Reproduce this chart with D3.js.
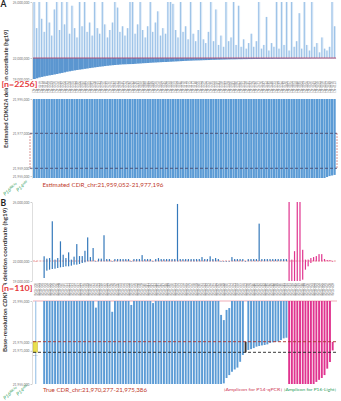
<!DOCTYPE html>
<html>
<head>
<meta charset="utf-8">
<script src="https://cdn.jsdelivr.net/npm/d3@7"></script>
<style>
body { margin: 0; background: #fff; }
svg { display: block; }
</style>
</head>
<body>
<div id="chart"></div>
<script>
var w = 341;
var h = 401;
var font = "Lato, 'Open Sans', sans-serif";

// Panel A: estimated deletions, start / end in Mb (sorted by start)
var aStart = [19.0, 19.1, 19.22, 19.3, 19.38, 19.45, 19.52, 19.58, 19.65, 19.72,
    19.8, 19.87, 19.95, 20.04, 20.1, 20.17, 20.23, 20.29, 20.34, 20.39,
    20.45, 20.5, 20.56, 20.61, 20.66, 20.71, 20.76, 20.8, 20.85, 20.89,
    20.93, 20.97, 21.0, 21.03, 21.06, 21.09, 21.1, 21.12, 21.13, 21.14,
    21.17, 21.2, 21.22, 21.25, 21.27, 21.29, 21.32, 21.34, 21.36, 21.38,
    21.4, 21.42, 21.43, 21.45, 21.47, 21.49, 21.51, 21.53, 21.55, 21.57,
    21.59, 21.61, 21.62, 21.64, 21.65, 21.66, 21.67, 21.69, 21.7, 21.71,
    21.73, 21.74, 21.75, 21.76, 21.77, 21.78, 21.79, 21.8, 21.81, 21.81,
    21.82, 21.83, 21.83, 21.84, 21.84, 21.85, 21.85, 21.86, 21.86, 21.87,
    21.87, 21.87, 21.88, 21.88, 21.88, 21.89, 21.89, 21.89, 21.9, 21.9,
    21.9, 21.91, 21.91, 21.91, 21.92, 21.92, 21.92, 21.93, 21.93, 21.93,
    21.94, 21.94, 21.945, 21.95, 21.952, 21.9535, 21.9545, 21.955, 21.9553, 21.9556];
var aEnd = [25, 23.6, 25, 24.1, 23.4, 25, 23.9, 23.2, 24.6, 25,
    23.5, 25, 23.8, 25, 23.3, 24.8, 23.6, 23.1, 25, 23.7,
    25, 23.4, 23.9, 23.2, 25, 23.6, 23.3, 25, 23.8, 23.1,
    23.5, 23.9, 25, 24.7, 23.4, 23.7, 23.2, 23.6, 25, 25,
    23.3, 23.8, 25, 23.5, 23.1, 23.7, 25, 23.4, 23.9, 24.5,
    23.2, 23.6, 23.3, 25, 25, 24.9, 23.5, 23.1, 25, 23.4,
    23.7, 23.0, 25, 23.3, 22.9, 23.5, 25, 23.0, 22.8, 23.4,
    25, 22.9, 24.6, 22.7, 23.2, 22.6, 25, 22.9, 23.1, 25,
    22.7, 24.8, 22.6, 23.0, 22.5, 22.8, 23.3, 22.6, 22.9, 25,
    22.5, 22.7, 24.2, 22.4, 22.8, 22.6, 25, 22.5, 25, 22.7,
    25, 22.4, 25, 22.6, 22.9, 24.4, 22.5, 25, 22.7, 22.4,
    25, 22.6, 22.8, 22.3, 23.1, 22.5, 22.4, 22.6, 25, 23.7];
var aTicksWide = [19, 22, 25];
var aTicksZoom = [21.955, 21.959, 21.977, 21.995];
var aCdr = [21.959052, 21.977196];

// Panel B: base-resolution deletions, start / end in Mb, group per sample
var bStart = [21.954, null, null, 19.45, 20.55, 20.7, 20.8, 20.85, 20.95, 21.05,
    21.1, 21.2, 21.2, 21.3, 21.45, 21.45, 21.55, 21.7, 21.8, 21.95,
    21.954, 21.954, 21.954, 21.954, 21.954, 21.954, 21.954, 21.954, 21.954, 21.954,
    21.954, 21.954, 21.954, 21.954, 21.954, 21.954, 21.954, 21.954, 21.954, 21.954,
    21.954, 21.954, 21.954, 21.954, 21.954, 21.954, 21.954, 21.954, 21.954, 21.954,
    21.954, 21.954, 21.954, 21.954, 21.954, 21.954, 21.954, 21.954, 21.954, 21.954,
    21.954, 21.954, 21.954, 21.954, 21.954, 21.954, 21.954, 21.954, 21.954, 21.9553,
    21.9579, 21.9593, 21.9609, 21.962, 21.9629, 21.9657, 21.969, 21.970277, 21.9714, 21.9718,
    21.9723, 21.973, 21.9733, 21.9736, 21.9738, 21.9741, 21.9748, 21.9751, 21.9753, 21.9755,
    21.9762, 21.977, 21.9773, 19.0, 19.0, 19.0, 19.0, 19.0, 19.2, 20.7,
    21.2, 21.7, 21.9545, 21.956, 21.957, 21.9579, 21.9593, 21.9624, 21.9656, 21.9712];
var bEnd = [21.996, null, null, 22.24, 22.12, 22.15, 24.02, 22.07, 22.15, 23.0,
    22.32, 22.15, 22.44, 22.07, 22.22, 22.86, 22.25, 22.25, 22.52, 23.2,
    22.2, 22.66, 21.9918, 22.12, 22.12, 23.31, 22.1, 22.1, 21.9898, 22.1,
    22.1, 22.1, 22.1, 22.1, 22.1, 21.9931, 22.1, 22.1, 22.1, 22.3,
    22.1, 22.1, 22.1, 21.994, 22.1, 22.15, 22.1, 22.1, 22.1, 22.1,
    22.1, 22.1, 24.9, 22.1, 22.1, 22.1, 22.1, 22.1, 22.1, 22.1,
    22.1, 22.2, 22.1, 22.1, 22.24, 22.1, 22.15, 22.1, 21.9883, 21.9858,
    21.9907, 21.9916, 22.2, 22.1, 22.1, 22.1, 22.1, 21.975386, 22.1, 22.1,
    22.1, 22.1, 23.9, 22.1, 22.1, 22.1, 22.1, 22.1, 22.1, 22.1,
    22.1, 22.1, 22.1, 25, 22.07, 22.5, 25, 25, 22.57, 22.07,
    22.07, 22.15, 22.2, 22.25, 22.35, 22.35, 22.1, 22.05, 22.05, 21.9753];
var bGroup = ["ref", "none", "none"]
    .concat(d3.range(74).map(function() { return "blue"; }))
    .concat(["cdr"])
    .concat(d3.range(15).map(function() { return "blue"; }))
    .concat(d3.range(17).map(function() { return "pink"; }));
var bTicksWide = [19, 22, 25];
var bTicksZoom = [21.955, 21.971, 21.975, 21.995];
var bCdr = [21.970277, 21.975386];

var aSamples = aStart.map(function(d, i) { return "CN-" + (2100 + i * 17); });
var bSamples = bStart.map(function(d, i) { return "WGS-" + (300 + i); });

var svg = d3.select("#chart")
    .append("svg")
    .attr("width", w)
    .attr("height", h)
    .style("font-family", font);

var fmt = d3.format(",");
function tickFmt(d) { return fmt(Math.round(d * 1e6)); }

function drawAxis(y, ticks, x) {
    var ax = svg.append("g")
        .attr("transform", "translate(" + x + ",0)")
        .call(d3.axisLeft(y).tickValues(ticks).tickFormat(tickFmt)
            .tickSize(1.5).tickSizeOuter(0).tickPadding(1));
    ax.attr("font-size", 3.3).attr("font-family", font);
    ax.select(".domain").attr("stroke", "#c8c8c8").attr("stroke-width", 0.6);
    ax.selectAll(".tick line").attr("stroke", "#999").attr("stroke-width", 0.5);
    ax.selectAll(".tick text").attr("fill", "#777");
}

function drawLabels(x, ids, y0, col) {
    svg.append("g").selectAll("text")
        .data(ids)
        .join("text")
        .attr("transform", function(d, i) {
            return "translate(" + (x(i) + x.bandwidth() / 2 + 1) + "," + y0 + ") rotate(-90)";
        })
        .attr("text-anchor", "end")
        .attr("font-size", 2.9)
        .attr("fill", col)
        .text(function(d) { return d; });
}

// ---------- panel A ----------
var aIdx = d3.range(aStart.length);
var xA = d3.scaleBand().domain(aIdx).range([33, 336]);
var yA1 = d3.scaleLinear().domain([19, 22, 25]).range([79, 58, 2]).clamp(true);
var yA2 = d3.scaleLinear().domain([21.954, 21.995]).range([178, 99]).clamp(true);

svg.append("g").selectAll("rect")
    .data(aIdx)
    .join("rect")
    .attr("x", function(i) { return xA(i); })
    .attr("width", xA.bandwidth())
    .attr("y", function(i) { return yA1(aEnd[i]); })
    .attr("height", function(i) { return yA1(22) - yA1(aEnd[i]); })
    .attr("fill", "#d8e7f6");

svg.append("g").selectAll("rect")
    .data(aIdx)
    .join("rect")
    .attr("x", function(i) { return xA(i) + xA.bandwidth() * 0.3; })
    .attr("width", 0.6)
    .attr("y", function(i) { return yA1(aEnd[i]); })
    .attr("height", function(i) { return yA1(22) - yA1(aEnd[i]); })
    .attr("fill", "#7aade0");

svg.append("g").selectAll("rect")
    .data(aIdx)
    .join("rect")
    .attr("x", function(i) { return xA(i); })
    .attr("width", xA.bandwidth() + 0.2)
    .attr("y", yA1(22))
    .attr("height", function(i) { return yA1(aStart[i]) - yA1(22); })
    .attr("fill", "#5b96d0");

svg.append("line")
    .attr("x1", 33).attr("x2", 336)
    .attr("y1", yA1(22)).attr("y2", yA1(22))
    .attr("stroke", "#b8466a").attr("stroke-width", 0.9);

drawAxis(yA1, aTicksWide, 32);
drawLabels(xA, aSamples, 81, "#777");

// zoomed A
svg.append("g").selectAll("rect")
    .data(aIdx)
    .join("rect")
    .attr("x", function(i) { return xA(i); })
    .attr("width", xA.bandwidth() - 0.3)
    .attr("y", function(i) { return yA2(aEnd[i]); })
    .attr("height", function(i) { return yA2(aStart[i]) - yA2(aEnd[i]); })
    .attr("fill", "#5b9bd5");

aCdr.forEach(function(v) {
    svg.append("line")
        .attr("x1", 30).attr("x2", 337)
        .attr("y1", yA2(v)).attr("y2", yA2(v))
        .attr("stroke", "#4a4a6e").attr("stroke-width", 0.9)
        .attr("stroke-dasharray", "3,2");
});
[30, 337].forEach(function(x) {
    svg.append("line")
        .attr("x1", x).attr("x2", x)
        .attr("y1", yA2(aCdr[1])).attr("y2", yA2(aCdr[0]))
        .attr("stroke", "#c0504d").attr("stroke-width", 0.8)
        .attr("stroke-dasharray", "1.5,1.5");
});

drawAxis(yA2, aTicksZoom, 32);

// ---------- panel B ----------
var bIdx = d3.range(bStart.length).filter(function(i) { return bStart[i] !== null; });
var xB = d3.scaleBand().domain(d3.range(bStart.length)).range([34.6, 334]);
var yB1 = d3.scaleLinear().domain([19, 22, 25]).range([281, 261, 202]).clamp(true);
var yB2 = d3.scaleLinear().domain([21.955, 21.995]).range([384, 301]).clamp(true);

var colB1 = { ref: "#e06a6a", blue: "#3579bb", cdr: "#3579bb", pink: "#e0348f" };
var colB2 = { ref: "#a8cbea", blue: "#5b9bd5", cdr: "#333333", pink: "#e0348f" };

svg.append("line")
    .attr("x1", 33).attr("x2", 336)
    .attr("y1", yB1(22)).attr("y2", yB1(22))
    .attr("stroke", "#e06a6a").attr("stroke-width", 0.7)
    .attr("stroke-dasharray", "2,1.2");

svg.append("g").selectAll("rect")
    .data(bIdx)
    .join("rect")
    .attr("x", function(i) { return xB(i) + xB.bandwidth() / 2 - 0.6; })
    .attr("width", 1.2)
    .attr("y", function(i) { return yB1(bEnd[i]); })
    .attr("height", function(i) { return Math.max(0.6, yB1(bStart[i]) - yB1(bEnd[i])); })
    .attr("fill", function(i) { return colB1[bGroup[i]]; });

drawAxis(yB1, bTicksWide, 32);
drawLabels(xB, bSamples, 283, "#666");

// zoomed B
svg.append("line")
    .attr("x1", 33).attr("x2", 337)
    .attr("y1", yB2(21.995)).attr("y2", yB2(21.995))
    .attr("stroke", "#e88a9a").attr("stroke-width", 0.7);

svg.append("g").selectAll("rect")
    .data(bIdx)
    .join("rect")
    .attr("x", function(i) { return xB(i) + xB.bandwidth() / 2 - 0.9; })
    .attr("width", function(i) { return bGroup[i] === "ref" ? 1.3 : 1.9; })
    .attr("y", function(i) { return yB2(bEnd[i]); })
    .attr("height", function(i) { return yB2(bStart[i]) - yB2(bEnd[i]); })
    .attr("fill", function(i) { return colB2[bGroup[i]]; });

svg.append("rect")
    .attr("x", 33).attr("width", 4.5)
    .attr("y", yB2(bCdr[1])).attr("height", yB2(bCdr[0]) - yB2(bCdr[1]))
    .attr("fill", "#e9df4f").attr("stroke", "#b9a420").attr("stroke-width", 0.4);
svg.append("text")
    .attr("x", 33).attr("y", yB2(bCdr[0]) + 3.5)
    .attr("font-size", 2.6).attr("fill", "#555")
    .text("P14");

svg.append("line")
    .attr("x1", 33).attr("x2", 337)
    .attr("y1", yB2(bCdr[1])).attr("y2", yB2(bCdr[1]))
    .attr("stroke", "#a8322d").attr("stroke-width", 0.9)
    .attr("stroke-dasharray", "3,2");
svg.append("line")
    .attr("x1", 33).attr("x2", 337)
    .attr("y1", yB2(bCdr[0])).attr("y2", yB2(bCdr[0]))
    .attr("stroke", "#222").attr("stroke-width", 0.9)
    .attr("stroke-dasharray", "3,2");

drawAxis(yB2, bTicksZoom, 32);

// ---------- text ----------
svg.append("text").attr("x", 0.5).attr("y", 7).attr("font-size", 8.5)
    .attr("font-weight", "bold").attr("fill", "#222").text("A");
svg.append("text").attr("x", 0.5).attr("y", 205.5).attr("font-size", 8.5)
    .attr("font-weight", "bold").attr("fill", "#222").text("B");

function yTitle(x, yc, len, first) {
    var t = svg.append("text")
        .attr("transform", "translate(" + x + "," + yc + ") rotate(-90)")
        .attr("text-anchor", "middle")
        .attr("font-size", 5.4)
        .attr("font-weight", "bold")
        .attr("fill", "#333")
        .attr("textLength", len)
        .attr("lengthAdjust", "spacingAndGlyphs");
    t.append("tspan").text(first + " ");
    t.append("tspan").attr("font-style", "italic").text("CDKN2A");
    t.append("tspan").text(" deletion coordinate (hg19)");
}
yTitle(7.5, 89, 118, "Estimated");
yTitle(6.5, 280, 144, "Base-resolution");

function nLabel(y, len, txt) {
    svg.append("rect").attr("x", 1).attr("y", y - 6).attr("width", len + 1.5).attr("height", 7.5)
        .attr("fill", "#fff");
    svg.append("text").attr("x", 1.5).attr("y", y).attr("font-size", 6.5)
        .attr("font-weight", "bold").attr("fill", "#e5383b")
        .attr("textLength", len).attr("lengthAdjust", "spacingAndGlyphs").text(txt);
}
nLabel(86.5, 36, "[n=2256]");
nLabel(291, 31, "[n=110]");

svg.append("text").attr("x", 42.5).attr("y", 186.5).attr("font-size", 6.5)
    .attr("fill", "#c0392b").attr("textLength", 121).attr("lengthAdjust", "spacingAndGlyphs")
    .text("Estimated CDR_chr:21,959,052-21,977,196");
svg.append("text").attr("x", 43).attr("y", 391.5).attr("font-size", 6.5)
    .attr("fill", "#c0392b").attr("textLength", 104).attr("lengthAdjust", "spacingAndGlyphs")
    .text("True CDR_chr:21,970,277-21,975,386");

svg.append("text").attr("x", 224).attr("y", 390.5).attr("font-size", 3.8)
    .attr("fill", "#d0405a").attr("textLength", 58).attr("lengthAdjust", "spacingAndGlyphs")
    .text("[Amplicon for P14-qPCR]");
svg.append("text").attr("x", 284).attr("y", 390.5).attr("font-size", 3.8)
    .attr("fill", "#2e9e5b").attr("textLength", 52).attr("lengthAdjust", "spacingAndGlyphs")
    .text("[Amplicon for P16-Light]");

function geneLabel(x, y, base, sup) {
    var t = svg.append("text")
        .attr("transform", "translate(" + x + "," + y + ") rotate(-40)")
        .attr("font-size", 5)
        .attr("font-style", "italic")
        .attr("fill", "#2e9e5b");
    t.append("tspan").text(base);
    t.append("tspan").attr("font-size", 3.2).attr("dy", -1.6).text(sup);
}
geneLabel(5, 196, "P16", "INK4a");
geneLabel(18, 192, "P14", "ARF");
geneLabel(5, 400, "P16", "INK4a");
geneLabel(18, 396, "P14", "ARF");
</script>
</body>
</html>
